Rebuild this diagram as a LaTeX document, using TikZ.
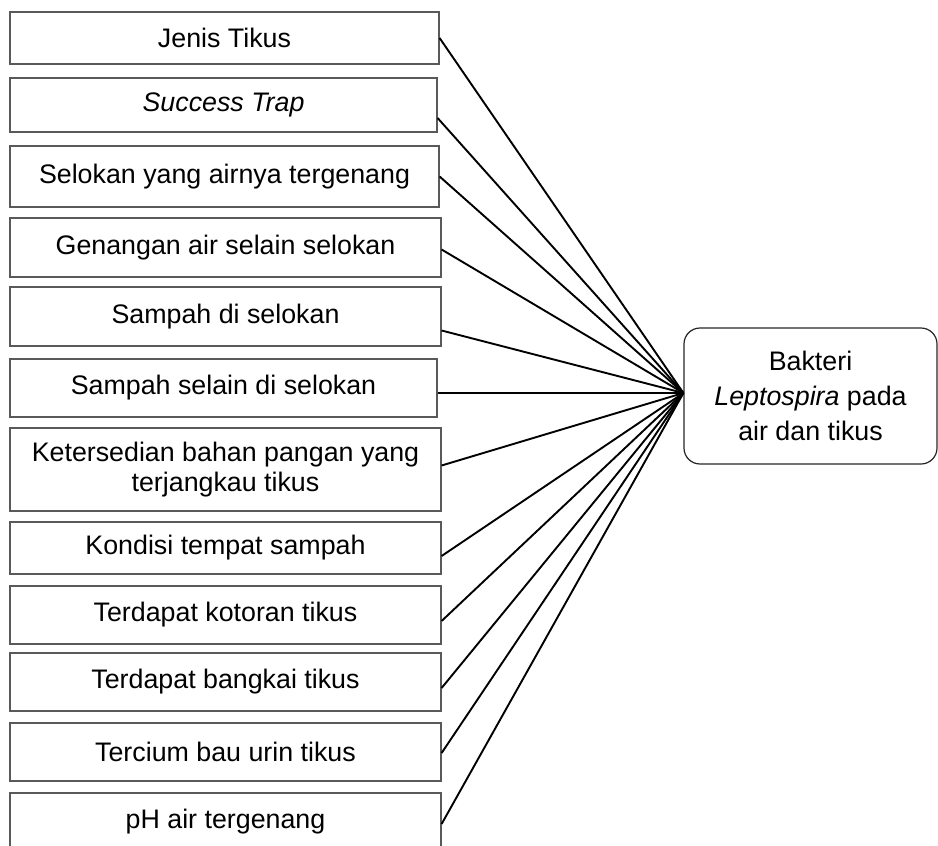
\documentclass[tikz,border=0pt]{standalone}
\usepackage{fontspec}
\setmainfont{Liberation Sans}
\begin{document}
\begin{tikzpicture}[x=1pt,y=-1pt,
  box/.style={draw=black!65, line width=1.2pt, inner sep=0pt, align=center,
    font=\fontsize{26.8}{30}\selectfont},
  target/.style={draw=black!85, line width=1.2pt, rounded corners=16pt, inner sep=0pt,
    align=center, font=\fontsize{26.8}{35}\selectfont},
  conn/.style={draw=black, line width=1.9pt}
]
\useasboundingbox (0,0) rectangle (938,846);
\node[box, minimum width=429, minimum height=52] (b1) at (224.5,38) {Jenis Tikus};
\node[box, minimum width=427, minimum height=54] (b2) at (223.5,105) {\itshape Success Trap};
\node[box, minimum width=429, minimum height=61] (b3) at (224.5,176.5) {Selokan yang airnya tergenang};
\node[box, minimum width=431, minimum height=59] (b4) at (225.5,247.5) {Genangan air selain selokan};
\node[box, minimum width=431, minimum height=59] (b5) at (225.5,316.5) {Sampah di selokan};
\node[box, minimum width=427, minimum height=58] (b6) at (223.5,388) {Sampah selain di selokan};
\node[box, minimum width=431, minimum height=83] (b7) at (225.5,469.5) {Ketersedian bahan pangan yang\\terjangkau tikus};
\node[box, minimum width=431, minimum height=52] (b8) at (225.5,548) {Kondisi tempat sampah};
\node[box, minimum width=431, minimum height=58] (b9) at (225.5,615) {Terdapat kotoran tikus};
\node[box, minimum width=431, minimum height=58] (b10) at (225.5,682) {Terdapat bangkai tikus};
\node[box, minimum width=431, minimum height=58] (b11) at (225.5,752) {Tercium bau urin tikus};
\node[box, minimum width=431, minimum height=58] (b12) at (225.5,822) {pH air tergenang};
\node[target, minimum width=253, minimum height=136] (R) at (810.5,396)
  {Bakteri\\\textit{Leptospira} pada\\air dan tikus};
\coordinate (hub) at ([yshift=3pt]R.west);
\draw[conn] (b1.east) -- (hub);
\draw[conn] ([yshift=-13pt]b2.east) -- (hub);
\draw[conn] (b3.east) -- (hub);
\draw[conn] ([yshift=-2pt]b4.east) -- (hub);
\draw[conn] ([yshift=-14pt]b5.east) -- (hub);
\draw[conn] ([yshift=-5pt]b6.east) -- (hub);
\draw[conn] ([yshift=4pt]b7.east) -- (hub);
\draw[conn] ([yshift=-8pt]b8.east) -- (hub);
\draw[conn] ([yshift=-6pt]b9.east) -- (hub);
\draw[conn] ([yshift=-6pt]b10.east) -- (hub);
\draw[conn] ([yshift=-1pt]b11.east) -- (hub);
\draw[conn] ([yshift=-2pt]b12.east) -- (hub);
\end{tikzpicture}
\end{document}
